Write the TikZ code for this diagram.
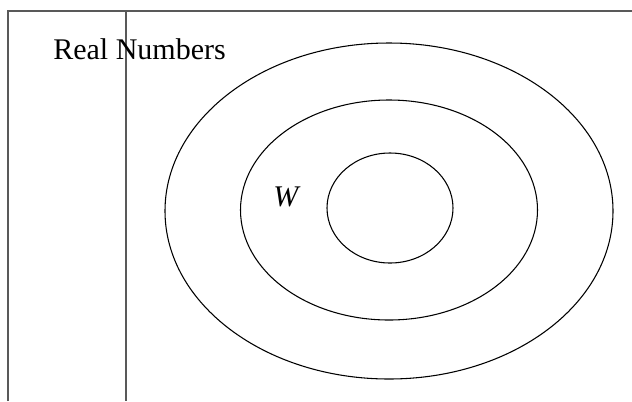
\documentclass[tikz,border=0pt]{standalone}
\usepackage{fontspec}
\setmainfont{Liberation Serif}
\usetikzlibrary{positioning}
\tikzset{
  frame/.style={
    line width=0.9pt,
    draw=black!65
  },
  ring/.style={
    line width=0.8pt,
    draw=black
  },
  label/.style={
    font=\fontsize{22.5}{27}\selectfont,
    inner sep=0pt
  }
}
\begin{document}
\begin{tikzpicture}[x=0.75pt,y=-0.75pt]
    \useasboundingbox (0,0) rectangle (632,401);
    \def\cx{389}
    \def\cy{211}
    % frame of the universe
    \draw[frame] (8,401) -- (8,11) -- (632,11);
    \draw[frame] (126,11) -- (126,401);
    % nested sets
    \draw[ring] (\cx,\cy) ellipse (224 and 168);
    \draw[ring] (\cx,210) ellipse (148.5 and 110);
    \draw[ring] (390,208) ellipse (63 and 55);
    \node[label,anchor=base west] (real) at (53,59) {Real Numbers};
    \node[label] (w) at (287,197) {\textit{W}};
\end{tikzpicture}
\end{document}
